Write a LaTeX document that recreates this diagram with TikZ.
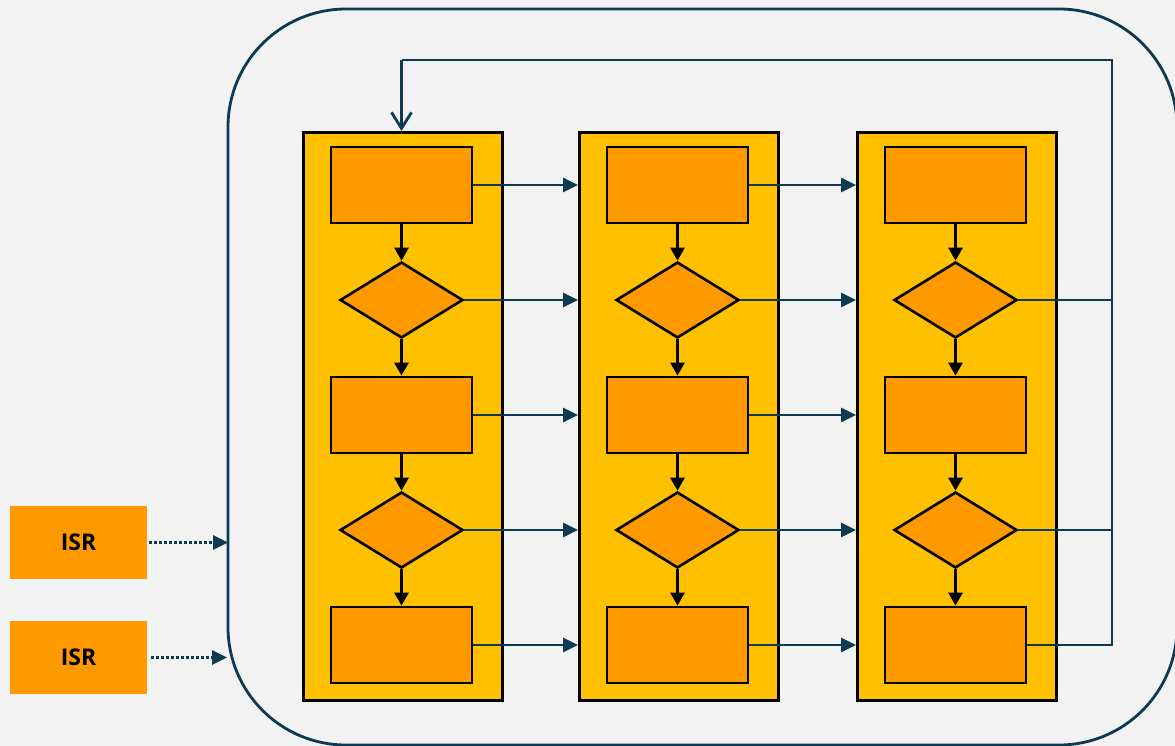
\documentclass[tikz,border=0pt]{standalone}
\usepackage{fontspec}
\setmainfont{Open Sans}
\usetikzlibrary{arrows.meta,shapes.geometric,calc}
\definecolor{bg}{HTML}{F2F2F2}
\definecolor{navy}{HTML}{0B3A52}
\definecolor{colyel}{HTML}{FFC000}
\definecolor{boxorg}{HTML}{FF9900}
\tikzset{
  column/.style={draw=black,fill=colyel,line width=2.8pt,minimum width=199pt,minimum height=568pt,inner sep=0pt,anchor=north west},
  procbox/.style={draw=black,fill=boxorg,line width=2.8pt,minimum width=141pt,minimum height=76pt,inner sep=0pt},
  decbox/.style={draw=black,fill=boxorg,line width=2.6pt,diamond,minimum width=123pt,minimum height=76pt,inner sep=0pt},
  isrbox/.style={fill=boxorg,minimum width=137pt,minimum height=73pt,inner sep=0pt,font=\bfseries\fontsize{23}{26}\selectfont},
  flow/.style={draw=navy,line width=2.8pt,-{Triangle[length=15pt,width=14pt]}},
  plain/.style={draw=navy,line width=2.8pt},
  vflow/.style={draw=black,line width=2.8pt,-{Triangle[length=13pt,width=14pt]}},
  dotflow/.style={draw=navy,line width=2.8pt,dash pattern=on 2.6pt off 2.4pt,-{Triangle[length=15pt,width=14pt]}},
}
\begin{document}
\begin{tikzpicture}[x=1pt,y=-1pt]
\fill[bg] (0,0) rectangle (1175,746);
\useasboundingbox (0,0) rectangle (1175,746);
\draw[navy,line width=2.8pt,rounded corners=118pt] (228,9) rectangle (1177,745);
\node[minimum width=949pt,minimum height=736pt,inner sep=0pt,anchor=north west] (frame) at (228,9) {};
% columns
\foreach \i/\x in {1/302,2/578,3/856}{
  \node[column] (col\i) at (\x,131) {};
  \pgfmathsetmacro{\cx}{\x+99.5}
  \node[procbox] (c\i r1) at (\cx,185) {};
  \node[decbox]  (c\i d1) at (\cx,300) {};
  \node[procbox] (c\i r2) at (\cx,415) {};
  \node[decbox]  (c\i d2) at (\cx,530) {};
  \node[procbox] (c\i r3) at (\cx,645) {};
  \draw[vflow] (c\i r1.south) -- (c\i d1.north);
  \draw[vflow] (c\i d1.south) -- (c\i r2.north);
  \draw[vflow] (c\i r2.south) -- (c\i d2.north);
  \draw[vflow] (c\i d2.south) -- (c\i r3.north);
}
% horizontal flows
\foreach \a/\b in {1/2,2/3}{
  \draw[flow] (c\a r1.east) -- (c\a r1.east -| col\b.west);
  \draw[flow] (c\a d1.east) -- (c\a d1.east -| col\b.west);
  \draw[flow] (c\a r2.east) -- (c\a r2.east -| col\b.west);
  \draw[flow] (c\a d2.east) -- (c\a d2.east -| col\b.west);
  \draw[flow] (c\a r3.east) -- (c\a r3.east -| col\b.west);
}
% feedback
\coordinate (fbBot) at (1112,645);
\coordinate (fbTop) at (1112,60);
\coordinate (fbLeft) at (401.5,60);
\draw[plain] (c3d1.east) -- (c3d1.east -| fbTop);
\draw[plain] (c3d2.east) -- (c3d2.east -| fbTop);
\draw[plain,line join=miter] (c3r3.east) -- (fbBot) -- (fbTop) -- (fbLeft);
\draw[plain,-{Straight Barb[length=16pt,width=20pt]}] (fbLeft) -- (fbLeft |- col1.north);
% ISR
\node[isrbox] (isr1) at (78.5,542.5) {ISR};
\node[isrbox] (isr2) at (78.5,657.5) {ISR};
\draw[dotflow] ($(isr1.east)+(2,0)$) -- (isr1.east -| frame.west);
\draw[dotflow] ($(isr2.east)+(4,0)$) -- ($(isr2.east -| frame.west)+(-1,0)$);
\end{tikzpicture}
\end{document}
